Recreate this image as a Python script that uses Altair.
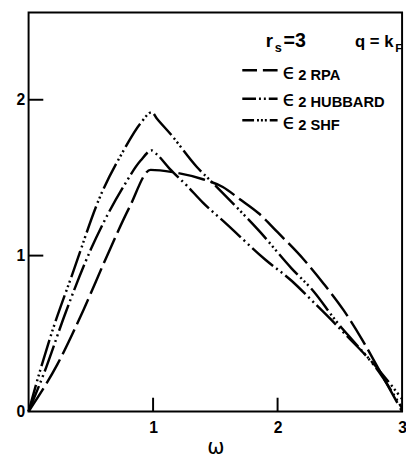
import altair as alt
import pandas as pd

# ---- data ----
omega_rpa = [0, 0.23, 0.44, 0.62, 0.81, 0.98, 1.16, 1.40, 1.56, 1.70, 1.85, 2.0, 2.21, 2.37, 2.53, 2.68, 2.82, 3.0]
eps_rpa = [0, 0.30, 0.65, 0.98, 1.31, 1.55, 1.535, 1.49, 1.44, 1.36, 1.27, 1.15, 0.975, 0.82, 0.65, 0.46, 0.26, 0.0]

omega_hub = [0, 0.126, 0.3, 0.5, 0.76, 0.9, 0.99, 1.03, 1.13, 1.27, 1.40, 1.58, 1.90, 2.11, 2.29, 2.55, 2.79, 3.0]
eps_hub = [0, 0.25, 0.64, 1.04, 1.44, 1.61, 1.675, 1.65, 1.56, 1.45, 1.34, 1.21, 0.975, 0.84, 0.70, 0.49, 0.28, 0.02]

omega_shf = [0, 0.07, 0.18, 0.36, 0.57, 0.76, 0.9, 0.99, 1.03, 1.14, 1.35, 1.50, 1.66, 1.85, 2.11, 2.29, 2.47, 2.61, 2.82, 3.0]
eps_shf = [0, 0.2, 0.49, 0.90, 1.37, 1.67, 1.85, 1.92, 1.88, 1.78, 1.57, 1.45, 1.32, 1.16, 0.92, 0.77, 0.58, 0.45, 0.26, 0.08]

series_names = ["RPA", "HUBBARD", "SHF"]
x_tick_values = [1, 2]
y_tick_values = [1, 2]
x_label_values = [1, 2, 3]
y_label_values = [0, 1, 2]
x_title = "ω"

dash_curves = [[28, 6], [28, 4, 2, 4, 2, 4], [28, 4, 2, 3, 2, 3, 2, 4]]
dash_legend = [[15, 6], [14, 3, 2, 3, 2, 3], [12, 3, 2, 2, 2, 2, 2, 3]]

rows = []
for name, xs, ys in zip(series_names, [omega_rpa, omega_hub, omega_shf], [eps_rpa, eps_hub, eps_shf]):
    for xv, yv in zip(xs, ys):
        rows.append({"series": name, "omega": xv, "eps": yv})
df = pd.DataFrame(rows)

W, H = 381, 407
FONT = "Liberation Sans"

xscale = alt.Scale(domain=[0, 3], nice=False, zero=False)
yscale = alt.Scale(domain=[0, 2.56], nice=False, zero=False)

curves = alt.Chart(df).mark_line(color="black", strokeWidth=2.5, interpolate="monotone").encode(
    x=alt.X("omega:Q", scale=xscale,
            axis=alt.Axis(values=x_label_values, format="d", title=x_title, ticks=False, domain=False,
                          grid=False, labelFlush=False, labelPadding=8, labelFontSize=16, labelFont=FONT,
                          labelFontWeight="bold", labelColor="black",
                          titleFont="DejaVu Sans", titleFontSize=21, titleFontWeight="normal",
                          titleColor="black", titlePadding=2)),
    y=alt.Y("eps:Q", scale=yscale,
            axis=alt.Axis(values=y_label_values, format="d", title=None, ticks=False, domain=False,
                          grid=False, labelPadding=4, labelFontSize=16, labelFont=FONT,
                          labelFontWeight="bold", labelColor="black")),
    strokeDash=alt.StrokeDash("series:N", scale=alt.Scale(domain=series_names, range=dash_curves), legend=None),
)

xt = alt.Chart(pd.DataFrame({"v": x_tick_values})).mark_rule(color="black", strokeWidth=2).encode(
    x=alt.X("v:Q", scale=xscale), y=alt.value(H), y2=alt.value(H - 14))
yt = alt.Chart(pd.DataFrame({"v": y_tick_values})).mark_rule(color="black", strokeWidth=2).encode(
    y=alt.Y("v:Q", scale=yscale), x=alt.value(0), x2=alt.value(15))

one = pd.DataFrame({"a": [0]})


def txt(s, x, y, size, weight="bold", font=FONT):
    return alt.Chart(one).mark_text(text=s, align="left", baseline="alphabetic", fontSize=size,
                                    fontWeight=weight, font=font, color="black").encode(
        x=alt.value(x), y=alt.value(y))


def sample(dash, y):
    return alt.Chart(one).mark_rule(color="black", strokeWidth=2.5, strokeDash=dash).encode(
        x=alt.value(218), x2=alt.value(254), y=alt.value(y))


layers = [curves, xt, yt,
          txt("r", 242, 35, 19), txt("s", 251, 40, 13), txt("=3", 260, 35, 20),
          txt("q = k", 333, 35, 17), txt("F", 374, 40, 12)]

legend_y = [59, 88, 110]
legend_base = [68, 95, 119]
for name, dash, ly, lb in zip(series_names, dash_legend, legend_y, legend_base):
    layers.append(sample(dash, ly))
    layers.append(txt("ϵ", 259, lb, 22, weight="normal", font="DejaVu Sans"))
    layers.append(txt("2 " + name, 275, lb + 1, 15))

chart = alt.layer(*layers).properties(
    width=W, height=H,
    autosize=alt.AutoSizeParams(type="none"),
    padding={"left": 21, "top": 0, "right": 4, "bottom": 47},
).configure_view(stroke="black", strokeWidth=2)

chart.save("out.html", embed_options={"renderer": "svg", "actions": False})
